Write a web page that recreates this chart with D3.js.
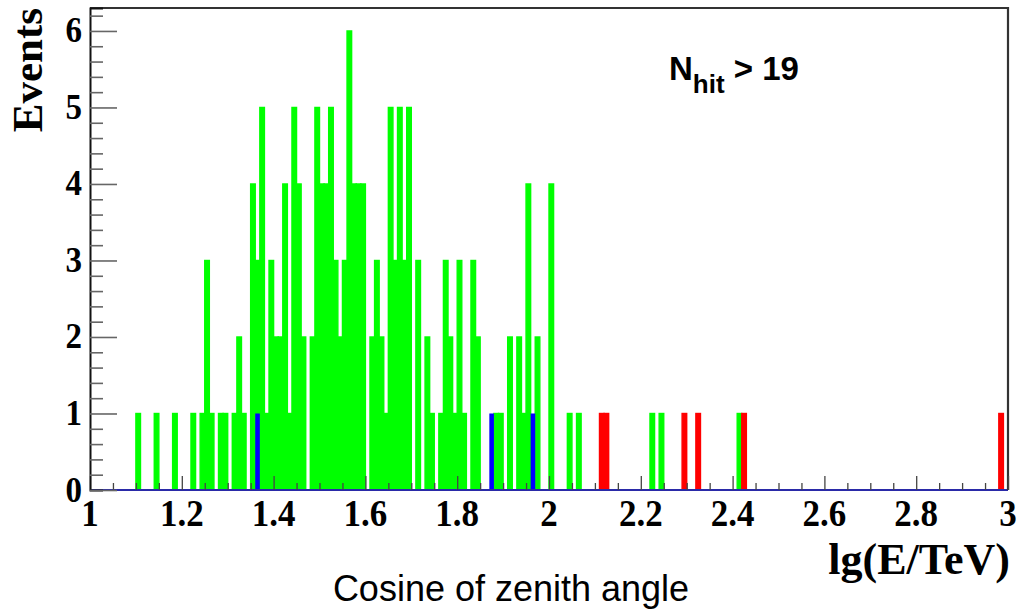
<!DOCTYPE html>
<html>
<head>
<meta charset="utf-8">
<script src="https://cdn.jsdelivr.net/npm/d3@7"></script>
<style>
  html, body { margin: 0; padding: 0; background: #ffffff; }
  svg { display: block; }
</style>
</head>
<body>
<svg id="chart" width="1020" height="613"></svg>
<script>
// Histogram bin width in lg(E/TeV)
const binWidth = 0.01;

// Green histogram: lower bin edges and event counts
const greenBins = [1.10, 1.14, 1.18, 1.22, 1.24, 1.25, 1.26, 1.28, 1.29, 1.31, 1.32, 1.33,
  1.35, 1.36, 1.37, 1.38, 1.39, 1.40, 1.41, 1.42, 1.43, 1.44, 1.45, 1.46, 1.48, 1.49,
  1.50, 1.51, 1.52, 1.53, 1.54, 1.55, 1.56, 1.57, 1.58, 1.59, 1.61, 1.62, 1.63, 1.64,
  1.65, 1.66, 1.67, 1.68, 1.69, 1.71, 1.73, 1.74, 1.76, 1.77, 1.78, 1.79, 1.80, 1.81,
  1.83, 1.84, 1.88, 1.89, 1.91, 1.93, 1.94, 1.95, 1.97, 2.00, 2.04, 2.06, 2.22, 2.24, 2.41];
const greenCounts = [1, 1, 1, 1, 1, 3, 1, 1, 1, 1, 2, 1,
  4, 3, 5, 1, 3, 2, 2, 4, 1, 5, 4, 2, 2, 5,
  4, 4, 5, 3, 2, 3, 6, 4, 4, 4, 2, 3, 2, 1,
  5, 3, 5, 3, 5, 3, 2, 1, 1, 3, 2, 1, 3, 1,
  3, 2, 1, 1, 2, 2, 1, 4, 2, 4, 1, 1, 1, 1, 1];

// Blue histogram
const blueBins = [1.36, 1.87, 1.96];
const blueCounts = [1, 1, 1];

// Red histogram
const redBins = [2.11, 2.12, 2.29, 2.32, 2.42, 2.98];
const redCounts = [1, 1, 1, 1, 1, 1];

// Axis ticks and labels
const xMajorTicks = [1, 1.2, 1.4, 1.6, 1.8, 2, 2.2, 2.4, 2.6, 2.8, 3];
const yMajorTicks = [0, 1, 2, 3, 4, 5, 6];
const xDomain = [1, 3];
const yDomain = [0, 6.3];

const svg = d3.select("#chart");
const plot = { left: 90, right: 1008, top: 8, bottom: 490 };

const x = d3.scaleLinear().domain(xDomain).range([plot.left, plot.right]);
const y = d3.scaleLinear().domain(yDomain).range([plot.bottom, plot.top]);

function drawHist(bins, counts, fill, strokeW, cls) {
  const data = bins.map((b, i) => ({ lo: b, n: counts[i] }));
  svg.append("g").attr("class", cls)
    .selectAll("rect")
    .data(data)
    .join("rect")
    .attr("x", d => x(d.lo))
    .attr("width", d => x(d.lo + binWidth) - x(d.lo))
    .attr("y", d => y(d.n))
    .attr("height", d => y(0) - y(d.n))
    .attr("fill", fill)
    .attr("stroke", strokeW > 0 ? fill : "none")
    .attr("stroke-width", strokeW);
}

drawHist(greenBins, greenCounts, "#00ff00", 1.4, "hist-green");
drawHist(blueBins, blueCounts, "#0000ff", 0, "hist-blue");
drawHist(redBins, redCounts, "#ff0000", 1.4, "hist-red");

// zero line of the overlaid histograms
svg.append("line")
  .attr("x1", x(1)).attr("x2", x(3))
  .attr("y1", y(0)).attr("y2", y(0))
  .attr("stroke", "#2a2aa8").attr("stroke-width", 2);

// frame: top and right edges
svg.append("path")
  .attr("d", `M${plot.left},${plot.top}H${plot.right}V${plot.bottom}`)
  .attr("fill", "none").attr("stroke", "#333").attr("stroke-width", 2.2);

// X axis: ticks drawn inward (upwards), majors every 0.2, minors every 0.05
const xAxis = d3.axisTop(x)
  .tickValues(d3.range(0, 41).map(i => 1 + i * 0.05))
  .tickSize(7)
  .tickFormat("");
const gx = svg.append("g").attr("transform", `translate(0,${plot.bottom})`).call(xAxis);
gx.select(".domain").remove();
gx.selectAll(".tick line").attr("stroke", "#444").attr("stroke-width", 1.3);
gx.selectAll(".tick line")
  .filter(d => xMajorTicks.some(m => Math.abs(m - d) < 1e-6))
  .attr("y2", -14);

// X tick labels
svg.append("g").selectAll("text")
  .data(xMajorTicks)
  .join("text")
  .attr("transform", d => `translate(${x(d)},526) scale(1,1.1)`)
  .attr("text-anchor", "middle")
  .attr("font-family", "Liberation Serif, Times New Roman, serif")
  .attr("font-weight", "bold")
  .attr("font-size", 35)
  .text(d => d3.format("~g")(d));

// Y axis: ticks drawn inward (rightwards), majors every 1, minors every 0.2
const yAxis = d3.axisRight(y)
  .tickValues(d3.range(0, 32).map(i => i * 0.2))
  .tickSize(13)
  .tickFormat("");
const gy = svg.append("g").attr("transform", `translate(${plot.left},0)`).call(yAxis);
gy.select(".domain").attr("stroke", "#111").attr("stroke-width", 2);
gy.selectAll(".tick line").attr("stroke", "#666").attr("stroke-width", 1.6);
gy.selectAll(".tick line")
  .filter(d => yMajorTicks.some(m => Math.abs(m - d) < 1e-6))
  .attr("x2", 27);

// Y tick labels
svg.append("g").selectAll("text")
  .data(yMajorTicks)
  .join("text")
  .attr("transform", d => `translate(82,${y(d) + 11.5}) scale(1,1.08)`)
  .attr("text-anchor", "end")
  .attr("font-family", "Liberation Serif, Times New Roman, serif")
  .attr("font-weight", "bold")
  .attr("font-size", 33)
  .text(d => d);

// Axis titles
svg.append("text")
  .attr("transform", "translate(42,8) rotate(-90)")
  .attr("text-anchor", "end")
  .attr("font-family", "Liberation Serif, Times New Roman, serif")
  .attr("font-weight", "bold")
  .attr("font-size", 43)
  .text("Events");

svg.append("text")
  .attr("x", 1010).attr("y", 574)
  .attr("text-anchor", "end")
  .attr("font-family", "Liberation Serif, Times New Roman, serif")
  .attr("font-weight", "bold")
  .attr("font-size", 44)
  .text("lg(E/TeV)");

svg.append("text")
  .attr("x", 511).attr("y", 601)
  .attr("text-anchor", "middle")
  .attr("font-family", "Liberation Sans, Arial, sans-serif")
  .attr("font-size", 36)
  .text("Cosine of zenith angle");

// Selection label
const sel = svg.append("text")
  .attr("x", 669).attr("y", 80)
  .attr("font-family", "Liberation Sans, Arial, sans-serif")
  .attr("font-weight", "bold")
  .attr("font-size", 33);
sel.append("tspan").text("N");
sel.append("tspan").attr("font-size", 26).attr("dy", 13).text("hit");
sel.append("tspan").attr("dy", -13).text(" > 19");
</script>
</body>
</html>
